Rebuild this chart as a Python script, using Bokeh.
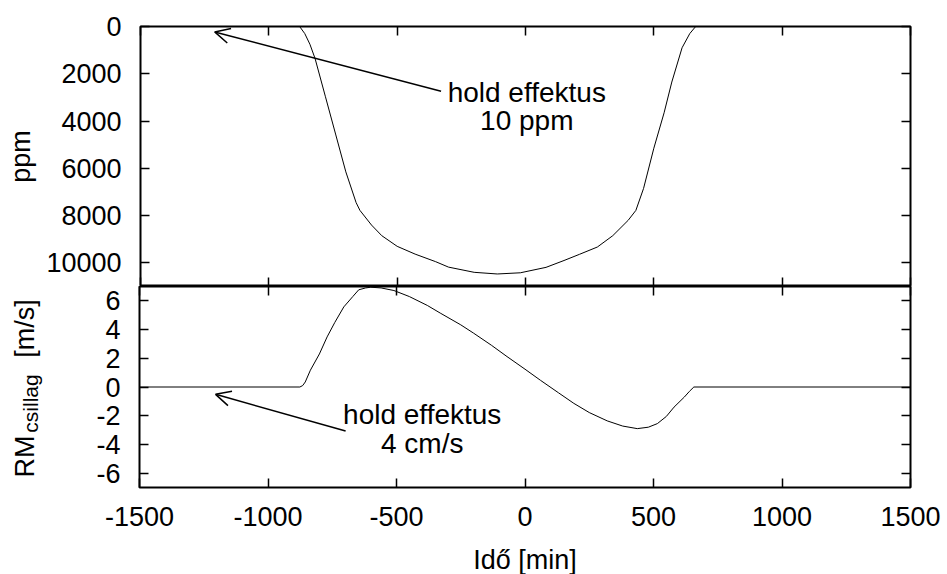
import math
from bokeh.plotting import figure
from bokeh.models import (Range1d, LinearAxis, FixedTicker, Label, Arrow, OpenHead,
                          CustomJSTickFormatter)
from bokeh.layouts import column, row
from bokeh.core.properties import value
from bokeh.embed import file_html
from bokeh.resources import INLINE

# ---- data ----
t_ppm = [-1500, -1000, -880, -860, -840, -820, -780, -740, -700, -660, -645, -600, -560,
         -500, -430, -350, -300, -200, -110, -20, 80, 150, 210, 280, 340, 400, 430, 460,
         500, 540, 570, 610, 640, 663, 1000, 1500]
ppm = [0, 0, 0, 300, 750, 1350, 2950, 4550, 6150, 7450, 7780, 8400, 8850,
       9300, 9630, 9950, 10180, 10400, 10470, 10420, 10190, 9900, 9640, 9330, 8850, 8200, 7780, 6850,
       5150, 3650, 2350, 900, 300, 0, 0, 0]

t_rm = [-1500, -1000, -876, -865, -855, -835, -800, -770, -740, -705, -670, -647, -620, -600,
        -560, -510, -450, -380, -330, -250, -200, -130, -70, 0, 60, 130, 190, 250, 320, 380,
        437, 480, 515, 550, 580, 620, 640, 657, 1000, 1500]
rm = [0, 0, 0, 0.1, 0.35, 1.17, 2.3, 3.49, 4.5, 5.58, 6.3, 6.77, 6.9, 6.95,
      6.9, 6.72, 6.3, 5.68, 5.15, 4.33, 3.75, 2.90, 2.12, 1.24, 0.47, -0.40, -1.14, -1.78, -2.36, -2.72,
      -2.90, -2.80, -2.55, -2.05, -1.40, -0.70, -0.30, 0, 0, 0]

x_ticks = [-1500, -1000, -500, 0, 500, 1000, 1500]
ppm_ticks = [0, 2000, 4000, 6000, 8000, 10000]
rm_ticks = [-6, -4, -2, 0, 2, 4, 6]

FONT = "Liberation Sans"
FS = "27px"

W = 947
FRAME_L = 139
RIGHT = 37
LW1 = 43                     # strip for "ppm"
LW2 = 60                     # strip for "RM_csillag [m/s]"
TOP1 = 26
H1 = 286
FH2 = 201                    # frame height of the lower panel
BOT2 = 54
H2 = FH2 + BOT2
H3 = 574 - H1 - H2
XMIN, XMAX = -1500, 1500
PPM_MAX = 11000
RM_MIN, RM_MAX = -7, 7
BASE_SHIFT = 8               # svg backend draws "alphabetic" text this much lower
ANN_SHIFT = 10

fmt = CustomJSTickFormatter(code="return tick.toString();")


def style_axis(ax, ticks, labels=True):
    ax.ticker = FixedTicker(ticks=ticks)
    ax.major_tick_in = 9
    ax.major_tick_out = 0
    ax.minor_tick_line_color = None
    ax.major_tick_line_width = 1.5
    ax.major_tick_line_color = "black"
    ax.axis_line_color = None
    if labels:
        ax.formatter = fmt
        ax.major_label_text_font = FONT
        ax.major_label_text_font_size = FS
        ax.major_label_text_color = "black"
        ax.major_label_standoff = 19
    else:
        ax.major_label_text_font_size = "0px"
        ax.major_label_standoff = 0
        ax.major_label_text_color = None


def make_fig(width, height, yr, left, top, bottom):
    p = figure(width=width, height=height, x_range=Range1d(XMIN, XMAX), y_range=yr,
               output_backend="svg", toolbar_location=None,
               x_axis_location=None, y_axis_location=None,
               min_border_left=left, min_border_right=RIGHT,
               min_border_top=top, min_border_bottom=bottom)
    p.grid.visible = False
    p.outline_line_color = "black"
    p.outline_line_width = 2
    p.background_fill_color = "white"
    p.border_fill_color = "white"
    return p


def blank_fig(w, h, y_top, y_bottom, top=0, bottom=0):
    # frame coordinates are absolute window pixels (y grows downward)
    p = figure(width=w, height=h, x_range=Range1d(0, w), y_range=Range1d(y_bottom, y_top),
               output_backend="svg", toolbar_location=None,
               x_axis_location=None, y_axis_location=None, min_border=0,
               min_border_top=top, min_border_bottom=bottom)
    p.grid.visible = False
    p.outline_line_color = None
    p.background_fill_color = "white"
    p.border_fill_color = "white"
    return p


# ---- top panel ----
p1 = make_fig(W - LW1, H1, Range1d(PPM_MAX, 0), FRAME_L - LW1, TOP1, 0)
ax = LinearAxis(); style_axis(ax, ppm_ticks); p1.add_layout(ax, "left")
ax = LinearAxis(); style_axis(ax, ppm_ticks, False); p1.add_layout(ax, "right")
ax = LinearAxis(); style_axis(ax, x_ticks, False); p1.add_layout(ax, "above")
ax = LinearAxis(); style_axis(ax, x_ticks, False); p1.add_layout(ax, "below")
p1.line(t_ppm, ppm, line_color="black", line_width=1)

ppm_per_px = PPM_MAX / (H1 - TOP1)
p1.add_layout(Arrow(end=OpenHead(size=15, line_width=1.5, line_color="black"),
                    x_start=-329, y_start=2742, x_end=-1211, y_end=229,
                    line_width=1.5, line_color="black"))
for txt, yy in [("hold effektus", 3195), ("10 ppm", 4394)]:
    p1.add_layout(Label(x=5, y=yy - ANN_SHIFT * ppm_per_px, text=txt,
                        text_align="center", text_baseline="alphabetic",
                        text_font=FONT, text_font_size="28px", text_color="black"))

# ---- bottom panel ----
p2 = make_fig(W - LW2, H2, Range1d(RM_MIN, RM_MAX), FRAME_L - LW2, 0, BOT2)
ax = LinearAxis(); style_axis(ax, rm_ticks); p2.add_layout(ax, "left")
ax = LinearAxis(); style_axis(ax, rm_ticks, False); p2.add_layout(ax, "right")
ax = LinearAxis(); style_axis(ax, x_ticks, False); p2.add_layout(ax, "above")
ax = LinearAxis(); style_axis(ax, x_ticks); p2.add_layout(ax, "below")
p2.line(t_rm, rm, line_color="black", line_width=1)

rm_per_px = (RM_MAX - RM_MIN) / FH2
p2.add_layout(Arrow(end=OpenHead(size=15, line_width=1.5, line_color="black"),
                    x_start=-698, y_start=-3.07, x_end=-1204, y_end=-0.51,
                    line_width=1.5, line_color="black"))
for txt, yy in [("hold effektus", -2.62), ("4 cm/s", -4.60)]:
    p2.add_layout(Label(x=-400, y=yy + ANN_SHIFT * rm_per_px, text=txt,
                        text_align="center", text_baseline="alphabetic",
                        text_font=FONT, text_font_size="28px", text_color="black"))

# ---- x-axis title strip ----
y0 = H1 + H2
xl = blank_fig(W, H3, y0, 574)
xl.text(x=[FRAME_L + (W - FRAME_L - RIGHT) / 2], y=[567 - BASE_SHIFT], text=["Idő [min]"],
        text_align="center", text_baseline="alphabetic",
        text_font=value(FONT), text_font_size="27px", text_color="black")

# ---- y-axis title strips (absolute window pixels) ----
lab1 = blank_fig(LW1, H1, TOP1, H1, top=TOP1)
lab1.text(x=[27 - BASE_SHIFT + 1], y=[(TOP1 + H1) / 2], text=["ppm"], angle=math.pi / 2,
          text_align="center", text_baseline="alphabetic",
          text_font=value(FONT), text_font_size="27px", text_color="black")

lab2 = blank_fig(LW2, H2, H1, H1 + FH2, bottom=BOT2)
lab2.text(x=[31 - BASE_SHIFT + 1], y=[456], text=["RM"], angle=math.pi / 2,
          text_align="center", text_baseline="alphabetic",
          text_font=value(FONT), text_font_size="27px", text_color="black")
lab2.text(x=[36 - 6], y=[403], text=["csillag"], angle=math.pi / 2,
          text_align="center", text_baseline="alphabetic",
          text_font=value(FONT), text_font_size="21px", text_color="black")
lab2.text(x=[31 - BASE_SHIFT + 1], y=[328], text=["[m/s]"], angle=math.pi / 2,
          text_align="center", text_baseline="alphabetic",
          text_font=value(FONT), text_font_size="27px", text_color="black")

layout = column(row(lab1, p1, spacing=0), row(lab2, p2, spacing=0), xl, spacing=0)
open("out.html", "w").write(file_html(layout, INLINE))
